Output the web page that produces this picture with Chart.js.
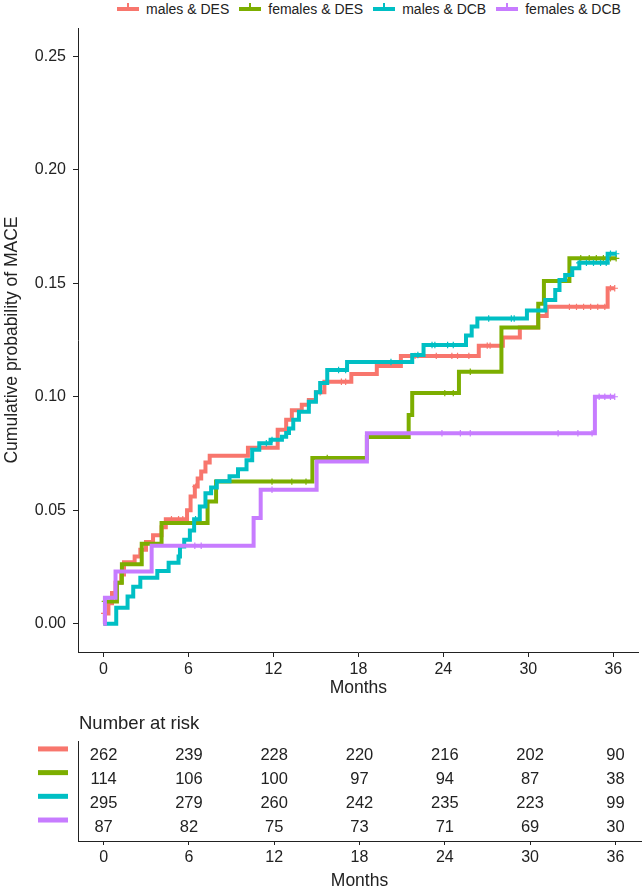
<!DOCTYPE html>
<html>
<head>
<meta charset="utf-8">
<script src="https://cdn.jsdelivr.net/npm/chart.js@4.4.1/dist/chart.umd.min.js"></script>
<style>
  body { margin: 0; background: #fff; width: 644px; height: 890px; overflow: hidden; position: relative;
         font-family: 'Liberation Sans', Arial, sans-serif; }
  #legend { position: absolute; top: 1px; left: 117px; display: flex; align-items: center;
            font-size: 14px; line-height: 16px; color: #222; white-space: nowrap; }
  #legend .item { display: flex; align-items: center; margin-right: 10px; }
  #legend .sw { position: relative; width: 22px; height: 4px; margin-right: 7px; }
  #legend .sw i { position: absolute; left: 10px; top: -4px; width: 2px; height: 5px; background: inherit; }
  #surv { position: absolute; left: 0; top: 0; }
  #risk { position: absolute; left: 0; top: 700px; }
</style>
</head>
<body>
<div id="legend"></div>
<canvas id="surv" width="644" height="700"></canvas>
<canvas id="risk" width="644" height="190"></canvas>
<script>
const groupNames = ['males & DES', 'females & DES', 'males & DCB', 'females & DCB'];
const groupColors = ['#F8766D', '#7CAE00', '#00BFC4', '#C77CFF'];
const xTicks = [0, 6, 12, 18, 24, 30, 36];
const yTicks = [0, 0.05, 0.10, 0.15, 0.20, 0.25];

// cumulative probability, value holds from each time until the next one
const maleDesTime = [0, 0.1, 0.35, 0.6, 0.85, 1.25, 1.45, 2.2, 2.6, 3.0, 3.5, 4.1, 4.4, 5.9, 6.15, 6.45, 6.65, 6.9, 7.2, 7.5, 10.2, 12.3, 12.9, 13.3, 14.0, 14.5, 15.0, 15.6, 17.5, 19.3, 21.0, 26.5, 28.2, 29.4, 30.7, 31.3, 35.6, 36.1];
const maleDesProb = [0, 0.0045, 0.009, 0.0135, 0.018, 0.0216, 0.027, 0.0296, 0.0326, 0.036, 0.039, 0.0425, 0.046, 0.050, 0.056, 0.0604, 0.064, 0.067, 0.071, 0.074, 0.0775, 0.0854, 0.0898, 0.094, 0.0965, 0.0986, 0.102, 0.1066, 0.110, 0.1135, 0.118, 0.1225, 0.1261, 0.1305, 0.1356, 0.1396, 0.1478, 0.1478];

const femaleDesTime = [0, 0.95, 1.3, 2.7, 4.1, 7.35, 7.95, 14.75, 18.6, 21.55, 21.8, 25.1, 28.1, 30.7, 31.1, 32.9, 36.2];
const femaleDesProb = [0.0098, 0.018, 0.0262, 0.0352, 0.0444, 0.0538, 0.0626, 0.073, 0.0823, 0.092, 0.1016, 0.111, 0.1305, 0.141, 0.151, 0.161, 0.161];

const maleDcbTime = [0, 0.9, 1.7, 2.1, 2.6, 3.8, 4.6, 5.3, 5.4, 5.7, 6.1, 6.4, 6.8, 7.2, 7.6, 8.0, 8.9, 9.5, 10.1, 10.5, 11.0, 11.8, 12.6, 12.9, 13.1, 13.4, 13.8, 14.5, 15.0, 15.3, 15.8, 17.2, 21.8, 22.6, 25.6, 26.0, 26.4, 29.9, 31.2, 31.9, 32.2, 32.6, 33.1, 33.6, 35.6, 36.2];
const maleDcbProb = [0, 0.007, 0.012, 0.0163, 0.0202, 0.0232, 0.0268, 0.0296, 0.034, 0.037, 0.041, 0.046, 0.0516, 0.0575, 0.060, 0.0627, 0.065, 0.068, 0.072, 0.0766, 0.0795, 0.081, 0.0824, 0.084, 0.086, 0.0898, 0.0934, 0.0978, 0.102, 0.106, 0.1118, 0.1153, 0.1184, 0.1228, 0.127, 0.131, 0.1345, 0.138, 0.1426, 0.147, 0.1514, 0.1536, 0.1566, 0.159, 0.163, 0.163];

const femaleDcbTime = [0, 0.1, 0.85, 3.4, 10.6, 11.1, 15.05, 18.6, 34.7, 36.1];
const femaleDcbProb = [0, 0.0114, 0.023, 0.0343, 0.0465, 0.059, 0.0714, 0.0839, 0.100, 0.100];

// censoring marks
const maleDesCensTime = [0.05, 4.8, 5.3, 5.6, 6.5, 15.3, 16.8, 17.1, 22.0, 23.5, 24.6, 25.0, 25.8, 27.1, 27.3, 32.9, 33.4, 33.9, 34.4, 34.9, 35.4, 35.8, 36.1];
const maleDesCensProb = [0.0045, 0.046, 0.046, 0.046, 0.0604, 0.102, 0.1066, 0.1066, 0.118, 0.118, 0.118, 0.118, 0.118, 0.1225, 0.1225, 0.1396, 0.1396, 0.1396, 0.1396, 0.1396, 0.1396, 0.1478, 0.1478];
const femaleDesCensTime = [0.1, 11.9, 13.3, 14.3, 15.8, 24.1, 24.7, 25.9, 33.7, 34.3, 34.8, 35.3, 35.8, 36.2];
const femaleDesCensProb = [0.0098, 0.0626, 0.0626, 0.0626, 0.073, 0.1016, 0.1016, 0.111, 0.161, 0.161, 0.161, 0.161, 0.161, 0.161];
const maleDcbCensTime = [6.5, 11.5, 11.9, 16.6, 17.1, 20.3, 22.2, 23.2, 23.4, 24.3, 24.7, 27.2, 28.8, 29.0, 33.6, 34.1, 34.6, 35.1, 35.5, 35.8, 36.2];
const maleDcbCensProb = [0.046, 0.0795, 0.081, 0.1118, 0.1118, 0.1153, 0.1184, 0.1228, 0.1228, 0.1228, 0.1228, 0.1345, 0.1345, 0.1345, 0.159, 0.159, 0.159, 0.159, 0.159, 0.163, 0.163];
const femaleDcbCensTime = [6.45, 6.9, 11.9, 23.9, 25.2, 25.9, 32.1, 33.5, 34.5, 35.0, 35.4, 35.8, 36.1];
const femaleDcbCensProb = [0.0343, 0.0343, 0.059, 0.0839, 0.0839, 0.0839, 0.0839, 0.0839, 0.0839, 0.100, 0.100, 0.100, 0.100];

// number at risk
const riskTimes = [0, 6, 12, 18, 24, 30, 36];
const riskMaleDes = [262, 239, 228, 220, 216, 202, 90];
const riskFemaleDes = [114, 106, 100, 97, 94, 87, 38];
const riskMaleDcb = [295, 279, 260, 242, 235, 223, 99];
const riskFemaleDcb = [87, 82, 75, 73, 71, 69, 30];

const FONT = "'Liberation Sans', Arial, sans-serif";
const INK = '#222';
Chart.defaults.font.family = FONT;
Chart.defaults.color = INK;

const curveTimes = [maleDesTime, femaleDesTime, maleDcbTime, femaleDcbTime];
const curveProbs = [maleDesProb, femaleDesProb, maleDcbProb, femaleDcbProb];
const censTimes = [maleDesCensTime, femaleDesCensTime, maleDcbCensTime, femaleDcbCensTime];
const censProbs = [maleDesCensProb, femaleDesCensProb, maleDcbCensProb, femaleDcbCensProb];
const riskRows = [riskMaleDes, riskFemaleDes, riskMaleDcb, riskFemaleDcb];

const toPoints = (ts, vs) => ts.map((t, i) => ({ x: t, y: vs[i] }));

const datasets = [];
groupNames.forEach((name, g) => {
    datasets.push({
        label: name,
        data: toPoints(curveTimes[g], curveProbs[g]),
        borderColor: groupColors[g],
        backgroundColor: groupColors[g],
        borderWidth: 4,
        stepped: 'before',
        pointRadius: 0,
        fill: false,
        order: 8 - g * 2
    });
    datasets.push({
        label: name + ' censored',
        data: toPoints(censTimes[g], censProbs[g]),
        showLine: false,
        pointStyle: 'cross',
        pointRadius: 3.2,
        pointBorderWidth: 1.2,
        pointBorderColor: groupColors[g],
        borderColor: groupColors[g],
        order: 7 - g * 2
    });
});

// html legend
const legendEl = document.getElementById('legend');
groupNames.forEach((name, g) => {
    const item = document.createElement('span');
    item.className = 'item';
    item.innerHTML = '<span class="sw" style="background:' + groupColors[g] + '"><i></i></span>' + name;
    legendEl.appendChild(item);
});

const months = {
    type: 'linear',
    min: -1.8,
    max: 37.8,
    afterBuildTicks: s => { s.ticks = xTicks.map(v => ({ value: v })); },
    border: { color: INK, width: 1 },
    grid: { drawOnChartArea: false, drawTicks: true, tickLength: 5, color: INK },
    ticks: { font: { size: 16 }, color: INK, padding: 3, maxRotation: 0, autoSkip: false },
    title: { display: true, text: 'Months', color: INK, font: { size: 17.5, lineHeight: 1 }, padding: { top: 0, bottom: 3 } }
};

new Chart(document.getElementById('surv'), {
    type: 'line',
    data: { datasets: datasets },
    options: {
        responsive: false,
        animation: false,
        devicePixelRatio: 1,
        layout: { padding: { left: 0, right: 3, top: 28, bottom: 0 } },
        plugins: { legend: { display: false }, tooltip: { enabled: false } },
        scales: {
            x: Object.assign({}, months, { afterFit: s => { s.height = 48; } }),
            y: {
                type: 'linear',
                min: -0.0125,
                max: 0.2625,
                afterBuildTicks: s => { s.ticks = yTicks.map(v => ({ value: v })); },
                afterFit: s => { s.width = 78; },
                border: { color: INK, width: 1 },
                grid: { drawOnChartArea: false, drawTicks: true, tickLength: 5, color: INK },
                ticks: { font: { size: 16 }, color: INK, padding: 7, callback: v => v.toFixed(2) },
                title: { display: true, text: 'Cumulative probability of MACE', color: INK,
                         font: { size: 17.5 }, padding: { top: 2, bottom: 0 } }
            }
        }
    }
});

// risk table: one row per group, counts placed at their time on the shared month axis
const riskDatasets = groupNames.map((name, g) => ({
    label: name,
    data: riskTimes.map((t, j) => ({ x: t, y: g, n: riskRows[g][j] })),
    showLine: false,
    pointRadius: 0,
    color: groupColors[g]
}));

const riskText = {
    id: 'riskText',
    afterDatasetsDraw(chart) {
        const ctx = chart.ctx;
        const y = chart.scales.y;
        ctx.save();
        ctx.fillStyle = INK;
        ctx.font = '18.5px ' + FONT;
        ctx.textAlign = 'left';
        ctx.textBaseline = 'alphabetic';
        ctx.fillText('Number at risk', 79, 28.5);
        ctx.font = '16.5px ' + FONT;
        ctx.textAlign = 'center';
        ctx.textBaseline = 'middle';
        chart.data.datasets.forEach((ds, g) => {
            chart.getDatasetMeta(g).data.forEach((pt, j) => {
                ctx.fillText(String(ds.data[j].n), pt.x, pt.y);
            });
            ctx.fillStyle = ds.color;
            ctx.fillRect(38, y.getPixelForValue(g) - 9.5, 30, 5);
            ctx.fillStyle = INK;
        });
        ctx.restore();
    }
};

new Chart(document.getElementById('risk'), {
    type: 'line',
    data: { datasets: riskDatasets },
    plugins: [riskText],
    options: {
        responsive: false,
        animation: false,
        devicePixelRatio: 1,
        layout: { padding: { left: 0, right: 3, top: 41, bottom: 0 } },
        plugins: { legend: { display: false }, tooltip: { enabled: false } },
        scales: {
            x: Object.assign({}, months, {
                afterFit: s => { s.height = 49; },
                grid: { drawOnChartArea: false, drawTicks: true, tickLength: 4, color: INK },
                ticks: { font: { size: 16 }, color: INK, padding: 2.5, maxRotation: 0, autoSkip: false },
                title: { display: true, text: 'Months', color: INK, font: { size: 17.5, lineHeight: 1 }, padding: { top: 0, bottom: 0 } }
            }),
            y: {
                type: 'linear',
                reverse: true,
                min: -0.63,
                max: 3.59,
                afterBuildTicks: s => { s.ticks = []; },
                afterFit: s => { s.width = 78; },
                border: { color: INK, width: 1 },
                grid: { drawOnChartArea: false, drawTicks: false },
                ticks: { display: false }
            }
        }
    }
});
</script>
</body>
</html>
